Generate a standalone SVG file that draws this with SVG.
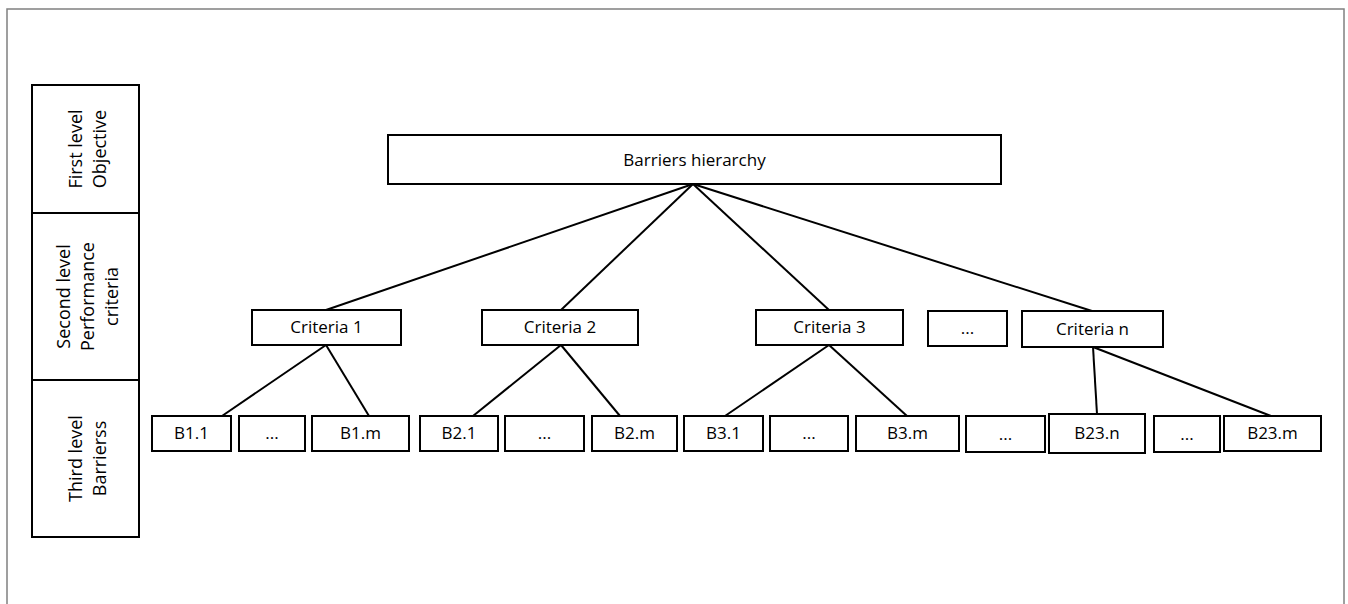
<svg xmlns="http://www.w3.org/2000/svg" width="1348" height="604" viewBox="0 0 1348 604">
<style>
.box{fill:#fff;stroke:#000;stroke-width:2}
.frame{fill:#fff;stroke:#808080;stroke-width:1.5}
.t{font-family:"Open Sans","Liberation Sans",sans-serif;font-size:17px;fill:#000;text-anchor:middle}
.lt{font-family:"Open Sans","Liberation Sans",sans-serif;font-size:18px;fill:#000;text-anchor:middle}
.c{stroke:#000;stroke-width:2;fill:none}
</style>
<rect class="frame" x="7" y="9" width="1337" height="640"/>
<g id="levels">
<rect class="box" x="32" y="85" width="107" height="128"/>
<rect class="box" x="32" y="213" width="107" height="167"/>
<rect class="box" x="32" y="380" width="107" height="157"/>
<text class="lt" transform="translate(0,149) rotate(-90)"><tspan x="0" y="82">First level</tspan><tspan x="0" y="106">Objective</tspan></text>
<text class="lt" transform="translate(0,296.5) rotate(-90)"><tspan x="0" y="70">Second level</tspan><tspan x="0" y="94">Performance</tspan><tspan x="0" y="118">criteria</tspan></text>
<text class="lt" transform="translate(0,458.5) rotate(-90)"><tspan x="0" y="82">Third level</tspan><tspan x="0" y="106">Barrierss</tspan></text>
</g>
<g id="connectors">
<line class="c" x1="693" y1="184" x2="326" y2="310"/>
<line class="c" x1="693" y1="184" x2="561" y2="310"/>
<line class="c" x1="693" y1="184" x2="829" y2="310"/>
<line class="c" x1="693" y1="184" x2="1092" y2="311"/>
<line class="c" x1="326" y1="345" x2="222" y2="416"/>
<line class="c" x1="326" y1="345" x2="369" y2="416"/>
<line class="c" x1="561" y1="345" x2="473" y2="416"/>
<line class="c" x1="561" y1="345" x2="620" y2="416"/>
<line class="c" x1="829" y1="345" x2="725" y2="416"/>
<line class="c" x1="829" y1="345" x2="907" y2="416"/>
<line class="c" x1="1093" y1="347" x2="1097" y2="414"/>
<line class="c" x1="1093" y1="347" x2="1271" y2="416"/>
</g>
<g id="root"><rect class="box" x="388" y="135" width="613" height="49"/><text class="t" x="694.5" y="166">Barriers hierarchy</text></g>
<g id="c1"><rect class="box" x="252" y="310" width="149" height="35"/><text class="t" x="326.5" y="333">Criteria 1</text></g>
<g id="c2"><rect class="box" x="482" y="310" width="156" height="35"/><text class="t" x="560" y="333">Criteria 2</text></g>
<g id="c3"><rect class="box" x="756" y="310" width="147" height="35"/><text class="t" x="829.5" y="333">Criteria 3</text></g>
<g id="cdots"><rect class="box" x="928" y="311" width="79" height="35"/><text class="t" x="967.5" y="334">...</text></g>
<g id="cn"><rect class="box" x="1022" y="311" width="141" height="36"/><text class="t" x="1092.5" y="335">Criteria n</text></g>
<g id="b11"><rect class="box" x="152" y="416" width="79" height="35"/><text class="t" x="191.5" y="439">B1.1</text></g>
<g id="b1d"><rect class="box" x="239" y="416" width="66" height="35"/><text class="t" x="272" y="439">...</text></g>
<g id="b1m"><rect class="box" x="312" y="416" width="97" height="35"/><text class="t" x="360.5" y="439">B1.m</text></g>
<g id="b21"><rect class="box" x="420" y="416" width="78" height="35"/><text class="t" x="459" y="439">B2.1</text></g>
<g id="b2d"><rect class="box" x="505" y="416" width="79" height="35"/><text class="t" x="544.5" y="439">...</text></g>
<g id="b2m"><rect class="box" x="592" y="416" width="85" height="35"/><text class="t" x="634.5" y="439">B2.m</text></g>
<g id="b31"><rect class="box" x="684" y="416" width="79" height="35"/><text class="t" x="723.5" y="439">B3.1</text></g>
<g id="b3d"><rect class="box" x="770" y="416" width="78" height="35"/><text class="t" x="809" y="439">...</text></g>
<g id="b3m"><rect class="box" x="856" y="416" width="103" height="35"/><text class="t" x="907.5" y="439">B3.m</text></g>
<g id="bd"><rect class="box" x="966" y="416" width="79" height="36"/><text class="t" x="1005.5" y="440">...</text></g>
<g id="b23n"><rect class="box" x="1049" y="414" width="96" height="39"/><text class="t" x="1097" y="439">B23.n</text></g>
<g id="b23d"><rect class="box" x="1154" y="416" width="66" height="36"/><text class="t" x="1187" y="440">...</text></g>
<g id="b23m"><rect class="box" x="1224" y="416" width="97" height="35"/><text class="t" x="1272.5" y="439">B23.m</text></g>
</svg>
